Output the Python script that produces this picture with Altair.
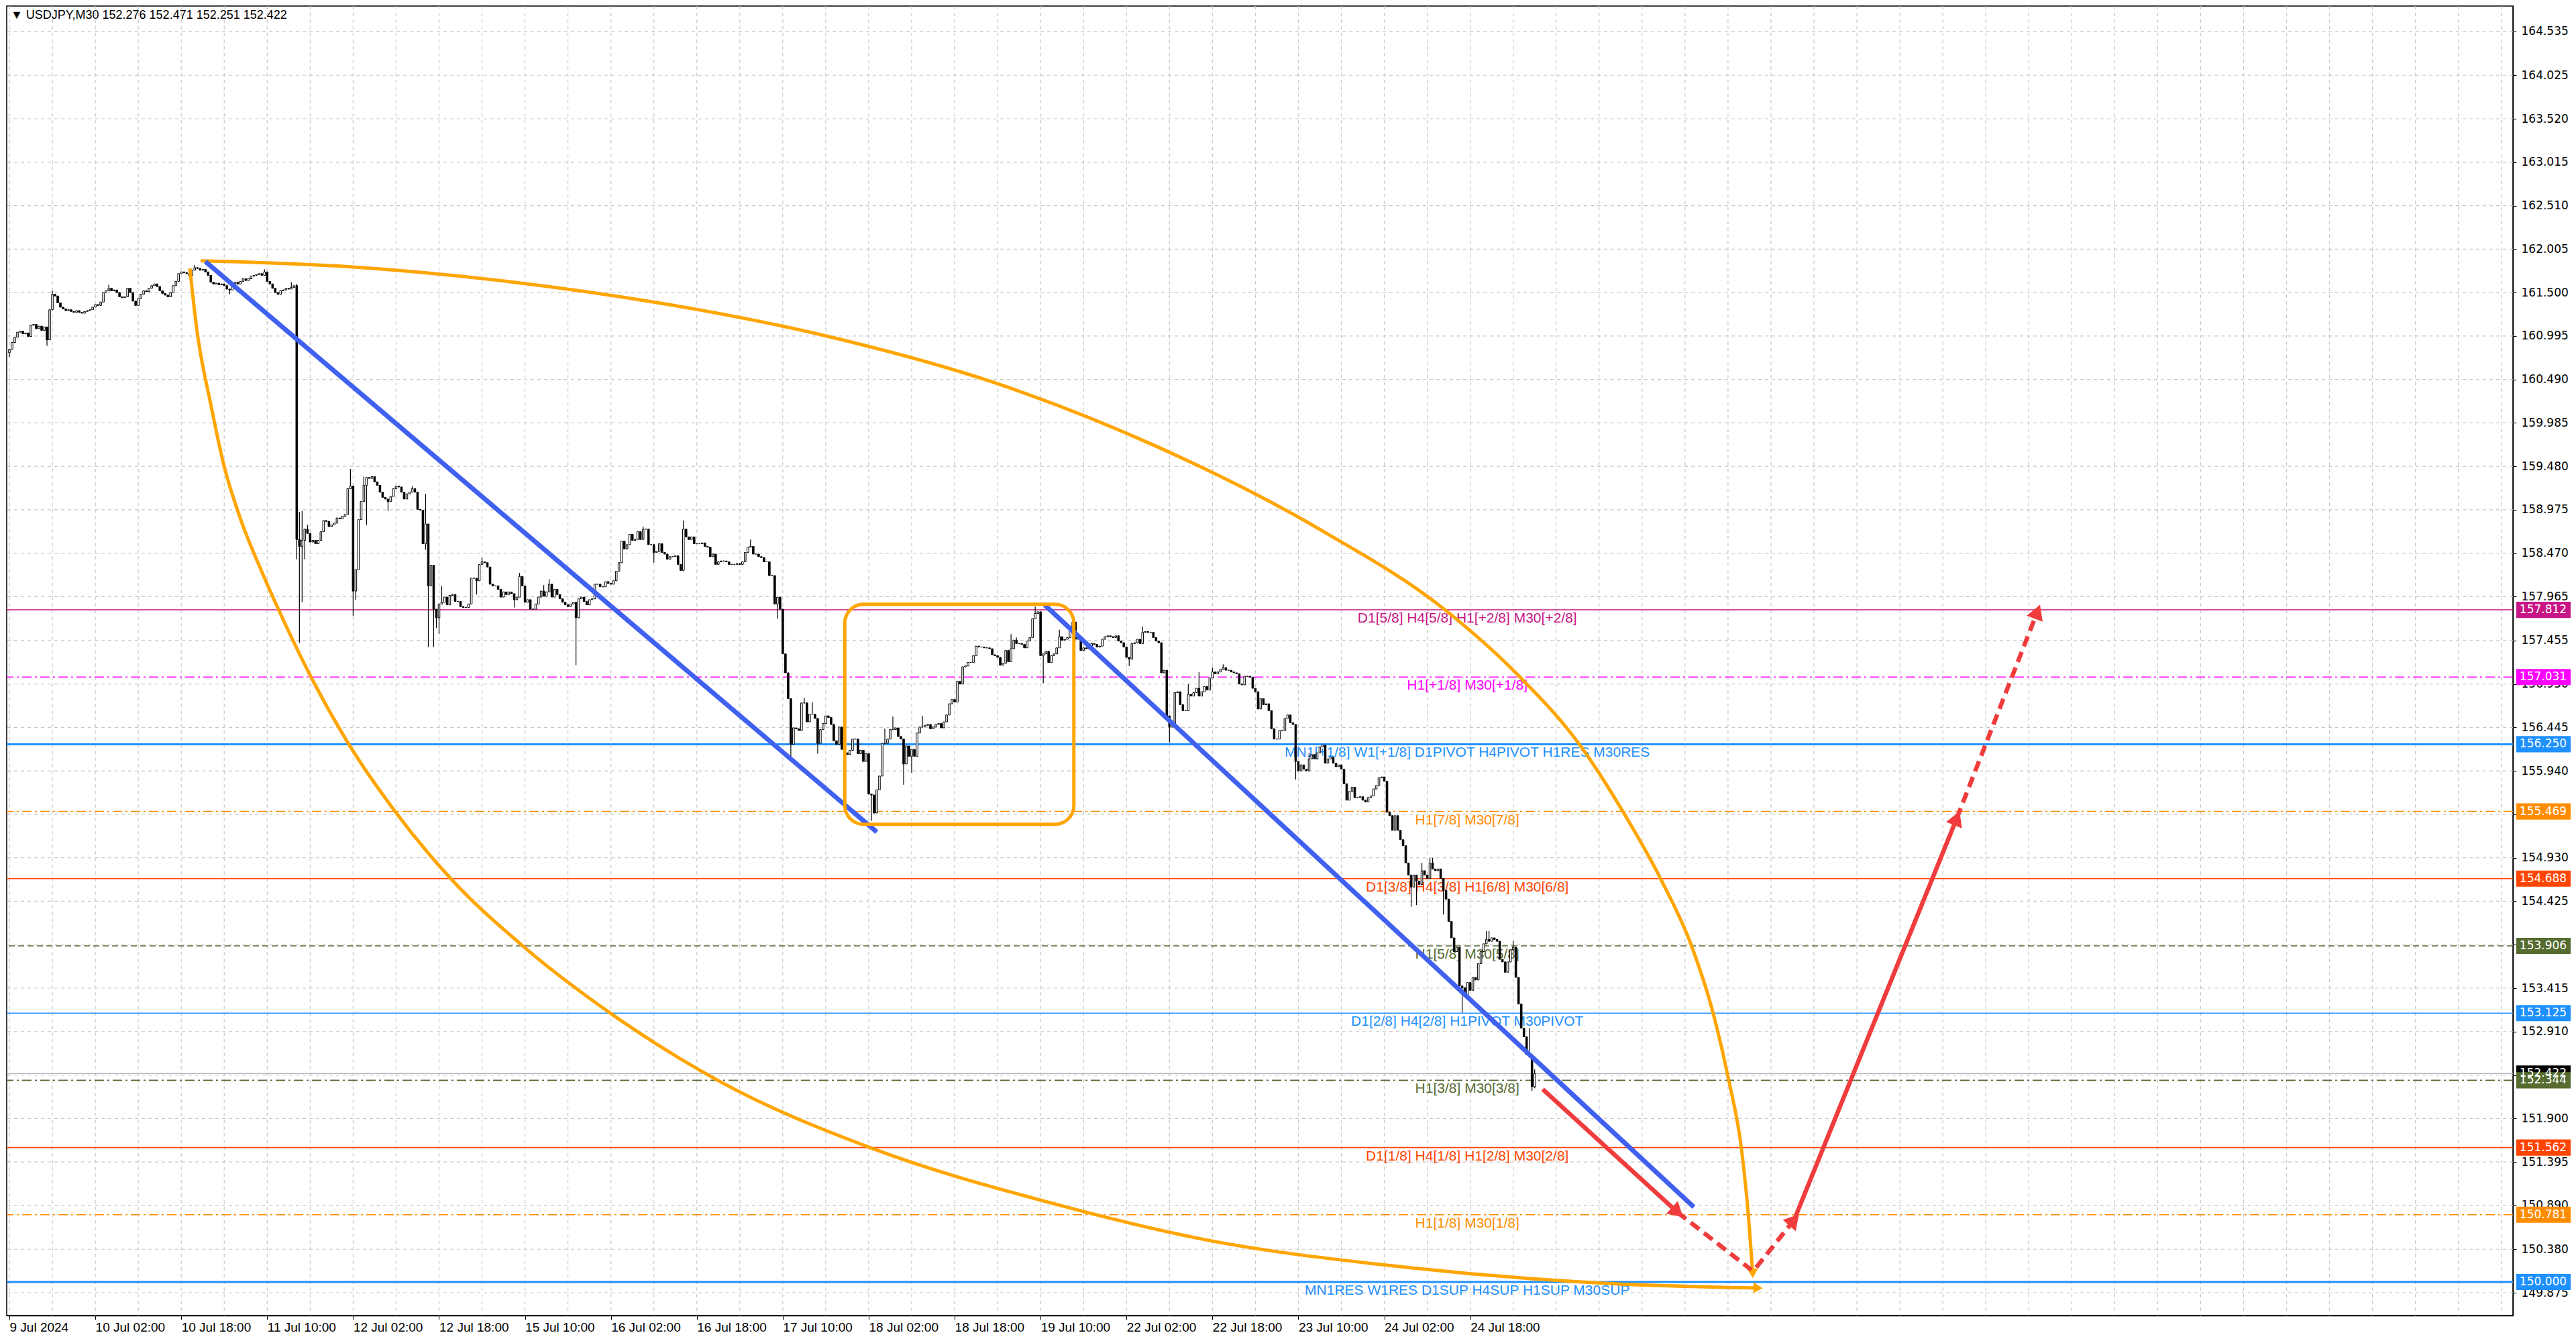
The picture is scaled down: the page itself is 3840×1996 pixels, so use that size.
import json

import altair as alt
import pandas as pd

# ---------------------------------------------------------------- values --
title_text = "\u25BC USDJPY,M30  152.276 152.471 152.251 152.422"

# M30 closes, bar 0 = 9 Jul 10:00 (weekend hours are skipped by the terminal)
first_open = 160.80
closes_a = [
    160.84, 160.92, 160.98, 161.04, 161.05, 161.02, 161.03, 160.99, 161.12, 161.13,
    161.08, 161.11, 161.06, 161.10, 160.95, 161.30, 161.48, 161.46, 161.38, 161.33,
    161.31, 161.29, 161.30, 161.28, 161.27, 161.29, 161.27, 161.26, 161.28, 161.29,
    161.30, 161.33, 161.36, 161.35, 161.39, 161.50, 161.52, 161.55, 161.52, 161.53,
    161.50, 161.45, 161.44, 161.45, 161.55, 161.50, 161.40, 161.35, 161.43, 161.48,
    161.52, 161.51, 161.55, 161.58, 161.60, 161.57, 161.52, 161.49, 161.47, 161.45,
    161.50, 161.58, 161.63, 161.72, 161.74, 161.73, 161.72, 161.70, 161.76, 161.79,
    161.78, 161.76, 161.77, 161.74, 161.70, 161.62, 161.60, 161.61, 161.59, 161.60,
    161.58, 161.54, 161.53, 161.60, 161.62, 161.60, 161.63, 161.66, 161.64, 161.66,
    161.69, 161.70, 161.71, 161.72, 161.70, 161.74, 161.63, 161.60, 161.55, 161.50,
    161.48, 161.52, 161.53, 161.55, 161.54, 161.56, 161.58, 158.63, 158.55, 158.62,
    158.75, 158.70, 158.60, 158.62, 158.58, 158.62, 158.72, 158.85, 158.84, 158.78,
    158.80, 158.82, 158.88, 158.87, 158.90, 158.92, 159.22, 159.25, 158.03, 158.28,
    158.86, 159.07, 159.26, 159.35, 159.34, 159.36, 159.30, 159.26, 159.18, 159.12,
    159.10, 159.07, 159.13, 159.22, 159.25, 159.24, 159.18, 159.10, 159.16,
]
closes_b = [
    159.18, 159.22, 159.18, 158.98, 158.97, 158.58, 158.81, 158.09, 158.33, 157.82, 157.72,
    157.88, 157.90, 157.96, 157.87, 157.98, 157.99, 157.91, 157.91, 157.85, 157.84,
    157.84, 157.88, 158.18, 158.18, 158.15, 158.34, 158.37, 158.36, 158.31, 158.11,
    158.09, 158.09, 158.05, 157.96, 158.02, 157.99, 158.02, 158.00, 157.93, 157.96,
    158.20, 158.09, 157.90, 157.93, 157.82, 157.82, 157.88, 157.96, 158.03, 157.97,
    158.02, 158.11, 157.96, 158.05, 157.99, 157.94, 157.90, 157.87, 157.85, 157.88,
    157.90, 157.72, 157.94, 157.96, 157.91, 157.87, 157.93, 157.94, 158.11, 158.11,
    158.08, 158.08, 158.14, 158.12, 158.11, 158.15, 158.26, 158.36, 158.61, 158.52,
    158.57, 158.69, 158.62, 158.63, 158.72, 158.63, 158.75, 158.75, 158.57, 158.57,
    158.48, 158.49, 158.58, 158.48, 158.46, 158.40, 158.43, 158.43, 158.44, 158.34,
    158.27, 158.75, 158.66, 158.63, 158.66, 158.58, 158.58, 158.58, 158.59, 158.55,
    158.54, 158.43, 158.46, 158.34, 158.37, 158.38, 158.38, 158.37, 158.34, 158.34,
    158.34, 158.35, 158.34, 158.37, 158.48, 158.54, 158.55, 158.46, 158.46, 158.43,
    158.42, 158.37, 158.37, 158.21, 158.21, 157.88, 157.96, 157.82, 157.30, 157.08,
    156.78, 156.25,
]
closes_c = [
    156.44, 156.43, 156.41, 156.73, 156.73, 156.51, 156.60, 156.60,
    156.55, 156.26, 156.42, 156.49, 156.58, 156.56, 156.48, 156.29, 156.25, 156.45,
    156.19, 156.15, 156.13, 156.18, 156.31, 156.31, 156.14, 156.18, 156.05, 156.14,
    155.67, 155.66, 155.45, 155.72, 155.88, 156.26, 156.26, 156.31, 156.42, 156.42,
    156.44, 156.34, 156.31, 156.02, 156.23, 156.11, 156.19, 156.11, 156.38, 156.45,
    156.45, 156.47, 156.48, 156.43, 156.45, 156.48, 156.49, 156.44, 156.51, 156.59,
    156.72, 156.77, 156.74, 156.98, 156.95, 157.15, 157.16, 157.20, 157.20, 157.28,
    157.39, 157.38, 157.38, 157.37, 157.37, 157.36, 157.29, 157.28, 157.26, 157.17,
    157.19, 157.34, 157.21, 157.36, 157.46, 157.42, 157.42, 157.41, 157.37, 157.45,
    157.49, 157.71, 157.77, 157.79, 157.28, 157.30, 157.33, 157.20, 157.28, 157.30,
    157.37, 157.50, 157.46, 157.47, 157.49, 157.60, 157.67, 157.47, 157.50, 157.34,
    157.37, 157.36, 157.39, 157.42, 157.41, 157.38, 157.39, 157.47, 157.50, 157.51,
    157.50, 157.49, 157.51, 157.45, 157.43, 157.38, 157.26, 157.24, 157.42, 157.43,
    157.47, 157.42, 157.55, 157.56, 157.55, 157.55, 157.49, 157.45, 157.43, 157.08,
    157.11, 156.58, 156.45, 156.45,
]
closes_d = [
    156.85, 156.86, 156.71, 156.64, 156.64, 156.83, 156.81, 156.85, 156.90, 156.81,
    156.86, 156.92, 156.88, 157.02, 157.09, 157.07,
    157.09, 157.12, 157.14, 157.11,
    157.11, 157.09, 157.08, 157.07, 156.95, 156.94, 157.04, 157.04, 157.03, 156.90,
    156.86, 156.66, 156.78, 156.71, 156.72, 156.64, 156.43, 156.31,
    156.31, 156.41, 156.41, 156.55, 156.59, 156.50, 156.48, 156.05, 155.94, 156.01,
    155.96, 155.94, 156.08, 156.13, 156.08, 156.15, 156.22, 156.24, 156.03, 156.08,
    156.10, 156.03,
    155.99, 156.01, 155.96, 155.79, 155.60, 155.70, 155.75, 155.63,
    155.63, 155.64, 155.60, 155.58,
    155.63, 155.65, 155.73, 155.77, 155.86, 155.87, 155.82, 155.46, 155.42, 155.25,
    155.42, 155.25, 155.14, 155.07, 154.87, 154.73, 154.59, 154.73, 154.66, 154.62,
    154.78, 154.73, 154.69, 154.87, 154.80, 154.78, 154.80, 154.69, 154.55, 154.45,
    154.19, 154.00, 153.84, 153.89, 153.44, 153.42, 153.34, 153.48, 153.39, 153.54,
    153.51, 153.70, 153.84, 153.93, 153.98,
    153.96, 154.00, 153.98, 153.96, 153.75, 153.72, 153.60, 153.72, 153.86, 153.89,
    153.54, 153.23, 152.95, 152.85, 152.64, 152.62, 152.27, 152.42,
]
closes = closes_a + closes_b + closes_c + closes_d

# visible wick ends (bar -> price); other bars have wicks inside their bodies
wick_high = {
    16: 161.52, 37: 161.59, 69: 161.82, 95: 161.77, 105: 161.62, 107: 161.60,
    108: 158.95, 109: 158.96, 111: 158.80, 127: 159.45, 132: 159.36, 150: 159.25,
    155: 159.16, 161: 158.09, 176: 158.42, 190: 158.24, 199: 158.10, 201: 158.17,
    236: 158.78, 251: 158.85, 276: 158.63, 296: 156.79, 299: 156.74, 326: 156.43,
    329: 156.57, 340: 156.58, 373: 157.53, 375: 157.49, 382: 157.85, 391: 157.58,
    396: 157.69, 422: 157.62, 439: 156.95, 443: 157.09, 448: 157.14, 452: 157.18,
    484: 156.15, 526: 154.87, 529: 154.93, 530: 154.93, 550: 154.08, 551: 154.08,
    560: 153.96, 566: 152.95, 568: 152.471,
}
wick_low = {
    0: 160.75, 14: 160.88, 82: 161.48, 107: 158.40, 108: 157.43, 109: 157.90,
    110: 158.40, 128: 157.74, 129: 157.93, 133: 158.80, 141: 158.96, 155: 158.51,
    156: 157.38, 158: 157.38, 159: 157.60, 160: 157.53, 174: 157.99, 188: 157.84,
    211: 157.17, 240: 158.36, 286: 157.71, 291: 156.10, 301: 156.14, 321: 155.36,
    333: 155.78, 336: 155.92, 385: 156.96, 417: 157.16, 432: 156.27, 479: 155.84,
    522: 154.36, 524: 154.38, 534: 154.27, 541: 153.13, 567: 152.22, 568: 152.251,
}

x_tick_labels = [
    "9 Jul 2024", "10 Jul 02:00", "10 Jul 18:00", "11 Jul 10:00", "12 Jul 02:00",
    "12 Jul 18:00", "15 Jul 10:00", "16 Jul 02:00", "16 Jul 18:00", "17 Jul 10:00",
    "18 Jul 02:00", "18 Jul 18:00", "19 Jul 10:00", "22 Jul 02:00", "22 Jul 18:00",
    "23 Jul 10:00", "24 Jul 02:00", "24 Jul 18:00",
]
y_ticks = [
    164.535, 164.025, 163.520, 163.015, 162.510, 162.005, 161.500, 160.995, 160.490,
    159.985, 159.480, 158.975, 158.470, 157.965, 157.455, 156.950, 156.445, 155.940,
    155.435, 154.930, 154.425, 153.920, 153.415, 152.910, 152.405, 151.900, 151.395,
    150.890, 150.380, 149.875,
]

level_prices = [157.812, 157.031, 156.250, 155.469, 154.688, 153.906, 153.125,
                152.422, 152.344, 151.562, 150.781, 150.000]
level_texts = [
    "D1[5/8] H4[5/8] H1[+2/8] M30[+2/8]",
    "H1[+1/8] M30[+1/8]",
    "MN1[+1/8] W1[+1/8] D1PIVOT H4PIVOT H1RES M30RES",
    "H1[7/8] M30[7/8]",
    "D1[3/8] H4[3/8] H1[6/8] M30[6/8]",
    "H1[5/8] M30[5/8]",
    "D1[2/8] H4[2/8] H1PIVOT M30PIVOT",
    "",
    "H1[3/8] M30[3/8]",
    "D1[1/8] H4[1/8] H1[2/8] M30[2/8]",
    "H1[1/8] M30[1/8]",
    "MN1RES W1RES D1SUP H4SUP H1SUP M30SUP",
]

# drawn objects, as (bar, price)
trend_a = [(73.0, 161.86), (323.0, 155.23)]
trend_b = [(385.5, 157.87), (627.3, 150.87)]
arc_upper = [(71.2, 161.87), (121.4, 161.81), (182.5, 161.64), (243.7, 161.37),
             (304.9, 160.99), (366.1, 160.46), (427.3, 159.71), (488.4, 158.74),
             (535.5, 157.79), (561.9, 157.05), (585.1, 156.23), (601.0, 155.46),
             (615.0, 154.68), (626.5, 153.90), (634.5, 153.12), (640.3, 152.34),
             (645.0, 151.55), (647.6, 150.77), (649.2, 150.10)]
arc_lower = [(67.2, 161.78), (69.8, 161.07), (75.0, 160.20), (79.9, 159.49),
             (85.6, 158.91), (94.2, 158.24), (99.0, 157.90), (111.2, 157.10),
             (126.4, 156.25), (143.6, 155.47), (164.6, 154.68), (191.4, 153.90),
             (224.0, 153.12), (264.0, 152.34), (321.5, 151.55), (386.5, 150.93),
             (443.9, 150.50), (520.4, 150.17), (596.8, 149.98), (651.2, 149.93)]
arc_tips = [(649.2, 150.10), (651.2, 149.93)]
range_box = [(311.1, 155.32), (396.4, 157.877)]
red_path = [
    ("solid", [(571.0, 152.24), (621.2, 150.81)]),
    ("arrowdash", [(621.2, 150.81), (648.7, 150.14)]),
    ("arrowdash", [(650.5, 150.17), (664.6, 150.72)]),
    ("solid", [(664.6, 150.72), (725.2, 155.39)]),
    ("arrowdash", [(725.2, 155.39), (755.2, 157.79)]),
]
red_tips = [(621.2, 150.81), (664.6, 150.72), (725.2, 155.39), (755.2, 157.79)]

# ---------------------------------------------------------------- styles --
W, H = 3736, 1952
X_DOMAIN = [-1, 932.3]
Y_DOMAIN = [149.61, 164.83]
LABEL_BAR = 542.9

level_line_colors = ["#C71585", "#FF00FF", "#1E90FF", "#FF8C00", "#FF4500", "#556B2F",
                     "#1E90FF", "#B0B0B0", "#556B2F", "#FF4500", "#FF8C00", "#1E90FF"]
level_box_colors = ["#C71585", "#FF00FF", "#1E90FF", "#FF8C00", "#FF4500", "#556B2F",
                    "#1E90FF", "#000000", "#556B2F", "#FF4500", "#FF8C00", "#1E90FF"]
level_dash = ["solid", "dashdot", "solid", "dashdot", "solid", "dash",
              "solid", "solid", "dashdot", "solid", "dashdot", "solid"]
level_widths = [1.6, 1.6, 3, 1.6, 1.6, 1.6, 1.6, 1.4, 1.6, 1.6, 1.6, 3]
red_tip_angles = [132, 41, 22, 21]
arc_tip_angles = [178, 93]

DASH = alt.Scale(domain=["solid", "dash", "dashdot", "arrowdash"],
                 range=[[1, 0], [9, 5], [14, 5, 3, 5], [16, 9]])
xs = alt.Scale(domain=X_DOMAIN, nice=False, zero=False)
ys = alt.Scale(domain=Y_DOMAIN, nice=False, zero=False)
X_AX = alt.Axis(values=list(range(0, 32 * len(x_tick_labels), 32)),
                labelExpr=f"{json.dumps(x_tick_labels)}[round(datum.value / 32)]",
                labelAlign="left", labelFont="Liberation Sans", labelFontSize=19,
                labelColor="black", tickColor="black", tickSize=6, domainColor="black",
                domainWidth=1.5, labelPadding=2, grid=False, title=None,
                labelFlush=False, labelOverlap=False)
Y_AX = alt.Axis(orient="right", values=y_ticks, format=".3f", labelFont="DejaVu Sans",
                labelFontSize=17, labelColor="black", tickColor="black", tickSize=5,
                domainColor="black", domainWidth=1.5, labelPadding=7, grid=False,
                title=None, labelOverlap=False)


def X(f):
    return alt.X(f, type="quantitative", scale=xs, axis=X_AX)


def Y(f):
    return alt.Y(f, type="quantitative", scale=ys, axis=Y_AX)


# ---------------------------------------------------------------- frames --
opens = [first_open] + closes[:-1]
candles = pd.DataFrame({
    "bar": range(len(closes)),
    "open": opens,
    "close": closes,
    "high": [max(o, c, wick_high.get(i, c)) for i, (o, c) in enumerate(zip(opens, closes))],
    "low": [min(o, c, wick_low.get(i, c)) for i, (o, c) in enumerate(zip(opens, closes))],
})

levels = pd.DataFrame({"price": level_prices, "text": level_texts, "line": level_line_colors,
                       "tint": level_box_colors, "dash": level_dash, "w": level_widths})


def path_frame(paths):
    rows = []
    for name, pts in paths:
        for k, (b, p) in enumerate(pts):
            rows.append({"name": name, "ord": k, "bar": b, "price": p})
    return pd.DataFrame(rows)


def tip_frame(pts, angles):
    return pd.DataFrame({"bar": [t[0] for t in pts], "price": [t[1] for t in pts],
                         "ang": angles})


trends = path_frame([("a", trend_a), ("b", trend_b)])
arcs = path_frame([("upper", arc_upper), ("lower", arc_lower)])
reds = path_frame([(f"{i}", pts) for i, (_, pts) in enumerate(red_path)])
reds["kind"] = [kind for kind, pts in red_path for _ in pts]
box = pd.DataFrame({"x0": [range_box[0][0]], "x1": [range_box[1][0]],
                    "y0": [range_box[0][1]], "y1": [range_box[1][1]]})

# ---------------------------------------------------------------- layers --
grid_style = dict(color="#C8C8C8", strokeDash=[5, 5], strokeWidth=1.2)
vgrid = alt.Chart(pd.DataFrame({"bar": list(range(0, 933, 16))})).mark_rule(
    **grid_style).encode(x=X("bar"))
hgrid = alt.Chart(pd.DataFrame({"price": y_ticks})).mark_rule(**grid_style).encode(y=Y("price"))

level_lines = alt.Chart(levels).mark_rule().encode(
    y=Y("price"),
    color=alt.Color("line:N", scale=None),
    strokeDash=alt.StrokeDash("dash:N", scale=DASH, legend=None),
    strokeWidth=alt.StrokeWidth("w:Q", scale=None),
)
level_labels = alt.Chart(levels).transform_filter("datum.text != ''").transform_calculate(
    bar=str(LABEL_BAR)
).mark_text(align="center", baseline="top", dy=2, font="Liberation Sans", fontSize=21).encode(
    x=X("bar"), y=Y("price"), text="text:N", color=alt.Color("tint:N", scale=None)
)

wicks = alt.Chart(candles).mark_rule(color="black", strokeWidth=1.2).encode(
    x=X("bar"), y=Y("low"), y2="high"
)
bodies = alt.Chart(candles).transform_calculate(
    x0="datum.bar - 0.32", x1="datum.bar + 0.32"
).mark_rect(stroke="black", strokeWidth=1).encode(
    x=X("x0"), x2="x1", y=Y("open"), y2="close",
    fill=alt.condition("datum.close > datum.open", alt.value("white"), alt.value("black")),
)

arc_lines = alt.Chart(arcs).mark_line(interpolate="monotone", color="#FFA500",
                                      strokeWidth=5).encode(
    x=X("bar"), y=Y("price"), detail="name:N", order="ord:Q")
arc_heads = alt.Chart(tip_frame(arc_tips, arc_tip_angles)).mark_point(
    shape="triangle-up", filled=True, color="#FFA500", size=260, opacity=1
).encode(x=X("bar"), y=Y("price"), angle=alt.Angle("ang:Q", scale=None))
trend_lines = alt.Chart(trends).mark_line(color="#4060F0", strokeWidth=7).encode(
    x=X("bar"), y=Y("price"), detail="name:N", order="ord:Q")
box_rect = alt.Chart(box).mark_rect(filled=False, stroke="#FFA500", strokeWidth=5,
                                    cornerRadius=28).encode(
    x=X("x0"), x2="x1", y=Y("y0"), y2="y1")
red_lines = alt.Chart(reds).mark_line(color="#F03C3C", strokeWidth=6.5).encode(
    x=X("bar"), y=Y("price"), detail="name:N", order="ord:Q",
    strokeDash=alt.StrokeDash("kind:N", scale=DASH, legend=None))
red_heads = alt.Chart(tip_frame(red_tips, red_tip_angles)).mark_point(
    shape="triangle-up", filled=True, color="#F03C3C", size=650, opacity=1
).encode(x=X("bar"), y=Y("price"), angle=alt.Angle("ang:Q", scale=None))

price_boxes = alt.Chart(levels).transform_calculate(
    lo="datum.price - 0.094", hi="datum.price + 0.094"
).mark_rect().encode(
    x=alt.value(W + 5), x2=alt.value(W + 86), y=Y("lo"), y2="hi",
    color=alt.Color("tint:N", scale=None))
price_texts = alt.Chart(levels).mark_text(
    align="center", baseline="middle", color="white", font="DejaVu Sans", fontSize=17
).encode(x=alt.value(W + 45), y=Y("price"), text=alt.Text("price:Q", format=".3f"))

title = alt.Chart(pd.DataFrame({"t": [title_text]})).mark_text(
    align="left", baseline="middle", font="Liberation Sans", fontSize=18, color="black"
).encode(x=alt.value(6), y=alt.value(14), text="t:N")

chart = alt.layer(
    vgrid, hgrid, level_lines, level_labels, wicks, bodies, arc_lines, arc_heads,
    trend_lines, box_rect, red_lines, red_heads, price_boxes, price_texts, title,
).properties(
    width=W, height=H, padding=0, background="white"
).configure_view(stroke="black", strokeWidth=1.5)

chart.save("out.html", embed_options={"renderer": "svg", "actions": False})
